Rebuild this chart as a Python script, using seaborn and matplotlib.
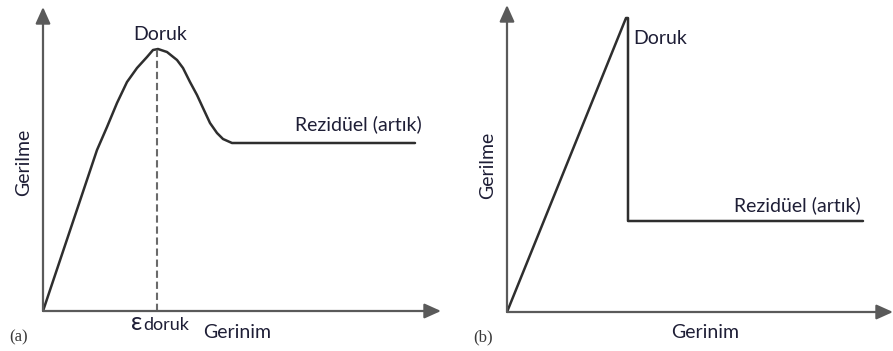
import matplotlib
matplotlib.use("Agg")
import matplotlib.pyplot as plt
import seaborn as sns
import pandas as pd

# ---- data (arbitrary stress/strain units) ----
a_strain = [0, 54, 64, 74, 84, 94, 104, 110, 115, 124, 134, 140, 147, 154, 160, 167, 174, 180, 189, 207, 372]
a_stress = [0, 161, 184, 208, 229, 243, 254, 261, 262, 259, 251, 243, 229, 216, 203, 188, 178, 172, 168, 168, 168]
a_peak_strain = 114
a_peak_stress = 262

b_strain = [0, 119, 121, 121, 356]
b_stress = [0, 294, 294, 91, 91]

x_label = "Gerinim"
y_label = "Gerilme"
peak_label = "Doruk"
residual_label = "Rezidüel (artık)"
eps_sub = "doruk"
panel_labels = ["(a)", "(b)"]

sns.set_style("white")
plt.rcParams["font.family"] = ["Lato", "DejaVu Sans"]

W, H = 893, 351
fig = plt.figure(figsize=(W / 100, H / 100), dpi=100)

TXT = "#1e1e36"
AXC = "#5a5a5a"
LNC = "#2e2e2e"
FS = 14


def make_axes(x0, y0, x1, y1):
    ax = fig.add_axes([x0 / W, (H - y0) / H, (x1 - x0) / W, (y0 - y1) / H])
    ax.set_xlim(0, x1 - x0)
    ax.set_ylim(0, y0 - y1)
    ax.axis("off")
    xm, ym = x1 - x0, y0 - y1
    style = "-|>,head_length=1.0,head_width=0.45"
    ax.annotate("", xy=(xm, 0), xytext=(0, 0),
                arrowprops=dict(arrowstyle=style, color=AXC, lw=1.6,
                                shrinkA=0, shrinkB=0),
                annotation_clip=False)
    ax.annotate("", xy=(0, ym), xytext=(0, 0),
                arrowprops=dict(arrowstyle=style, color=AXC, lw=1.6,
                                shrinkA=0, shrinkB=0),
                annotation_clip=False)
    return ax


# ---- panel (a) ----
ax1 = make_axes(43, 311, 441, 7)
dfa = pd.DataFrame({"strain": a_strain, "stress": a_stress})
sns.lineplot(data=dfa, x="strain", y="stress", sort=False, ax=ax1,
             color=LNC, lw=1.8, estimator=None)
ax1.plot([a_peak_strain, a_peak_strain], [0, a_peak_stress],
         ls=(0, (3.5, 1.8)), color="#6a6a6a", lw=1.5)
ax1.axis("off")
ax1.text(117, 277, peak_label, ha="center", va="center", fontsize=FS, color=TXT)
ax1.text(315, 187, residual_label, ha="center", va="center", fontsize=FS, color=TXT)
ax1.text(-19, 149, y_label, ha="center", va="center", rotation=90, fontsize=FS, color=TXT)
ax1.text(194, -22, x_label, ha="center", va="center", fontsize=FS, color=TXT)
ax1.text(94, -11, "ε", ha="center", va="center", fontsize=18, color=TXT)
ax1.text(100, -14, eps_sub, ha="left", va="center", fontsize=13, color=TXT)
ax1.text(-24, -26, panel_labels[0], ha="center", va="center", fontsize=12,
         color="#3a3a3a", family="Liberation Serif")

# ---- panel (b) ----
ax2 = make_axes(507, 312, 893, 5)
dfb = pd.DataFrame({"strain": b_strain, "stress": b_stress})
sns.lineplot(data=dfb, x="strain", y="stress", sort=False, ax=ax2,
             color=LNC, lw=1.8, estimator=None)
ax2.axis("off")
ax2.text(126, 274, peak_label, ha="left", va="center", fontsize=FS, color=TXT)
ax2.text(290, 107, residual_label, ha="center", va="center", fontsize=FS, color=TXT)
ax2.text(-19, 147, y_label, ha="center", va="center", rotation=90, fontsize=FS, color=TXT)
ax2.text(198, -21, x_label, ha="center", va="center", fontsize=FS, color=TXT)
ax2.text(-24, -25, panel_labels[1], ha="center", va="center", fontsize=12,
         color="#3a3a3a", family="Liberation Serif")

fig.savefig("out.png", dpi=100)
